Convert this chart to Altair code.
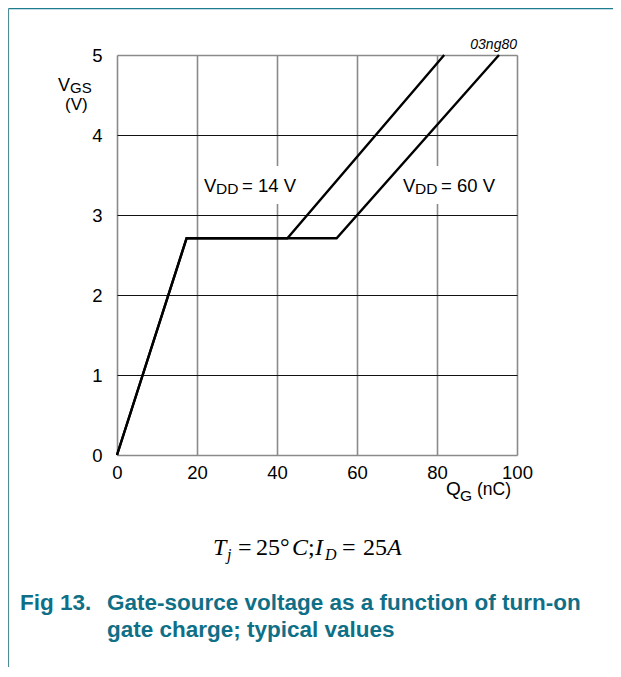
import altair as alt
import pandas as pd

# ---- data ----
qg_vdd14 = [0, 17.4, 42.6, 81.8]
vgs_vdd14 = [0, 2.71, 2.71, 5.0]
qg_vdd60 = [0, 17.4, 54.9, 95.5]
vgs_vdd60 = [0, 2.71, 2.71, 5.0]
series_names = ["VDD = 14 V", "VDD = 60 V"]

x_ticks = [0, 20, 40, 60, 80, 100]
y_ticks = [0, 1, 2, 3, 4, 5]

# label anchors (centre of each curve label, data units)
label_qg = [33.75, 83.5]
label_vgs = [3.375, 3.375]
label_value = ["14", "60"]

TEAL = "#0f6f87"
FONT = "Liberation Sans"
SERIF = "Liberation Serif"

rows = []
for q, v in zip(qg_vdd14, vgs_vdd14):
    rows.append({"qg": q, "vgs": v, "series": series_names[0]})
for q, v in zip(qg_vdd60, vgs_vdd60):
    rows.append({"qg": q, "vgs": v, "series": series_names[1]})
df = pd.DataFrame(rows)

xscale = alt.Scale(domain=[0, 100], nice=False, zero=False)
yscale = alt.Scale(domain=[0, 5], nice=False, zero=False)

xaxis = alt.Axis(values=x_ticks, format="d", grid=True, gridColor="#8a8a8a", gridWidth=1.6,
                 domain=False, ticks=False, labelPadding=8, labelFontSize=18.5,
                 labelFlush=False, labelFont=FONT, labelColor="black", title=None)
yaxis = alt.Axis(values=y_ticks, format="d", grid=True,
                 gridColor={"condition": {"test": "datum.value == 0 || datum.value == 5",
                                          "value": "#8a8a8a"}, "value": "#111111"},
                 gridWidth={"condition": {"test": "datum.value == 0 || datum.value == 5",
                                          "value": 1.6}, "value": 1.1},
                 domain=False, ticks=False, labelPadding=15, labelFontSize=18.5,
                 labelFlush=False, labelFont=FONT, labelColor="black", title=None)

lines = alt.Chart(df).mark_line(color="black", strokeWidth=2.4, strokeJoin="miter").encode(
    x=alt.X("qg:Q", scale=xscale, axis=xaxis),
    y=alt.Y("vgs:Q", scale=yscale, axis=yaxis),
    detail="series:N",
)

lab_df = pd.DataFrame({"qg": label_qg, "vgs": label_vgs, "val": label_value})

label_bg = alt.Chart(lab_df).mark_rect(color="white", width=106, height=38).encode(
    x=alt.X("qg:Q", scale=xscale), y=alt.Y("vgs:Q", scale=yscale))

def lab_piece(field_expr, dx, dy, size):
    return alt.Chart(lab_df).transform_calculate(t=field_expr).mark_text(
        font=FONT, fontSize=size, align="left", baseline="alphabetic", dx=dx, dy=dy,
        color="black").encode(
        x=alt.X("qg:Q", scale=xscale), y=alt.Y("vgs:Q", scale=yscale), text="t:N")

lab_v = lab_piece("'V'", -48, 7, 18.5)
lab_dd = lab_piece("'DD'", -36, 9, 15.5)
lab_rest = lab_piece("'= ' + datum.val + ' V'", -10, 7, 18.5)

def txt(s, x, y, size=17, font=FONT, style="normal", weight="normal",
        color="black", align="left"):
    return alt.Chart(pd.DataFrame({"t": [s]})).mark_text(
        font=font, fontSize=size, fontStyle=style, fontWeight=weight, color=color,
        align=align, baseline="alphabetic").encode(
        x=alt.value(x), y=alt.value(y), text="t:N")

texts = [
    txt("03ng80", 400, -6, size=14, style="italic", align="right"),
    # y axis title V_GS (V)
    txt("V", -59, 36, size=18),
    txt("GS", -47, 38, size=15),
    txt("(V)", -52, 55, size=17),
    # x axis title Q_G (nC)
    txt("Q", 329, 440, size=19),
    txt("G", 343, 446, size=15.5),
    txt("(nC)", 360, 440, size=17.5),
    # formula
    txt("T", 96, 500, size=24, font=SERIF, style="italic"),
    txt("j", 110, 505, size=16, font=SERIF, style="italic"),
    txt("=", 121, 500, size=24, font=SERIF),
    txt("25°", 139, 500, size=24, font=SERIF),
    txt("C", 175, 500, size=24, font=SERIF, style="italic"),
    txt(";", 191, 500, size=24, font=SERIF),
    txt("I", 198, 500, size=24, font=SERIF, style="italic"),
    txt("D", 208, 505, size=16, font=SERIF, style="italic"),
    txt("=", 225, 500, size=24, font=SERIF),
    txt("25", 246, 500, size=24, font=SERIF),
    txt("A", 270, 500, size=24, font=SERIF, style="italic"),
    # caption
    txt("Fig 13.", -97, 555, size=22.5, weight="bold", color=TEAL),
    txt("Gate-source voltage as a function of turn-on", -10, 555, size=22.5,
        weight="bold", color=TEAL),
    txt("gate charge; typical values", -10, 582, size=22.5, weight="bold", color=TEAL),
]

frame_top = alt.Chart(pd.DataFrame({"a": [0]})).mark_rule(color="#1d7c8e", strokeWidth=1.6).encode(
    x=alt.value(-108.5), x2=alt.value(496), y=alt.value(-46.5))
frame_left = alt.Chart(pd.DataFrame({"a": [0]})).mark_rule(color="#4f8c98", strokeWidth=1.2).encode(
    x=alt.value(-108.5), y=alt.value(-46.5), y2=alt.value(612))

chart = alt.layer(label_bg, lines, lab_v, lab_dd, lab_rest, *texts, frame_top, frame_left).properties(
    width=400, height=400,
    padding={"left": 109, "top": 47, "right": 96, "bottom": 212},
    autosize=alt.AutoSizeParams(type="none"),
).configure_view(stroke=None).configure(background="white")

chart.save("out.html", embed_options={"renderer": "svg", "actions": False})
